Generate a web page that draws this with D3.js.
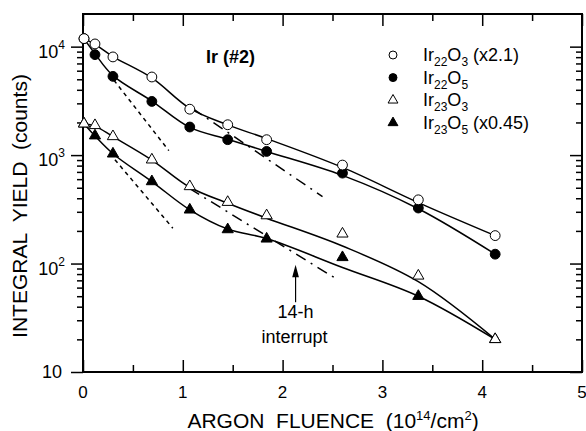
<!DOCTYPE html>
<html>
<head>
<meta charset="utf-8">
<script src="https://cdn.jsdelivr.net/npm/d3@7/dist/d3.min.js"></script>
<style>
  body { margin: 0; background: #fff; }
  text { font-family: Arial, "Liberation Sans", sans-serif; fill: #000; }
</style>
</head>
<body>
<div id="chart"></div>
<script>
// DATA
const fluence = [0.01, 0.12, 0.30, 0.69, 1.07, 1.45, 1.84, 2.60, 3.36, 4.13];
const ir22o3 = [11860, 10590, 8040, 5250, 2650, 1905, 1387, 809, 387, 181];   // x2.1
const ir22o5 = [11860, 8440, 5320, 3125, 1815, 1387, 1081, 682, 325, 122];
const ir23o3 = [1945, 1880, 1486, 906, 514, 368, 277, 188, 77, 20];
const ir23o5 = [1945, 1510, 1028, 571, 313, 206, 169, 114, 50, 20];           // x0.45

// smooth fit curves as drawn through the points
const fit22o3 = [11860, 10500, 8100, 5150, 2700, 1900, 1420, 770, 365, 181];
const fit22o5 = [11860, 8600, 5400, 3150, 1800, 1400, 1080, 650, 320, 122];
const fit23o3 = [1945, 1850, 1480, 900, 505, 360, 262, 145, 68, 20];
const fit23o5 = [1945, 1500, 1030, 570, 313, 208, 170, 92, 50, 20];

// initial-slope (dashed) and later-slope (dash-dot) straight lines
const dashX = [[0.31, 0.86], [0.32, 0.90]];
const dashY = [[4900, 1100], [906, 212]];
const dashDotX = [[1.10, 2.40], [1.07, 2.52]];
const dashDotY = [[2680, 415], [491, 74]];

// 14-h interrupt arrow
const arrowX = 2.13;
const arrowY = [44, 91];

const xTicks = [0, 1, 2, 3, 4, 5];
const xMinor = [0.5, 1.5, 2.5, 3.5, 4.5];
const yMajor = [10, 100, 1000, 10000];
const yExp = ["", "2", "3", "4"];

const legendNames = [
  { base: "Ir", s1: "22", o: "O", s2: "3", tail: " (x2.1)", sym: "circle", fill: "#fff" },
  { base: "Ir", s1: "22", o: "O", s2: "5", tail: "", sym: "circle", fill: "#000" },
  { base: "Ir", s1: "23", o: "O", s2: "3", tail: "", sym: "triangle", fill: "#fff" },
  { base: "Ir", s1: "23", o: "O", s2: "5", tail: " (x0.45)", sym: "triangle", fill: "#000" }
];

const W = 586, H = 431;
const margin = { top: 14, right: 4, bottom: 59, left: 83 };

const svg = d3.select("#chart").append("svg")
  .attr("width", W)
  .attr("height", H);

// SCALES
const x = d3.scaleLinear().domain([0, 5]).range([margin.left, W - margin.right]);
const y = d3.scaleLog().domain([10, 20000]).range([H - margin.bottom, margin.top]);

let yMinor = [];
[10, 100, 1000, 10000].forEach(d => {
  for (let k = 2; k <= 9; k++) if (d * k < 20000) yMinor.push(d * k);
});

// AXES (ticks only; frame drawn separately)
function axisTicks(axis, values, size, transform) {
  const g = svg.append("g")
    .attr("transform", transform)
    .call(axis.tickValues(values).tickSize(size).tickFormat(""));
  g.select(".domain").remove();
  g.selectAll("line").attr("stroke", "#000").attr("stroke-width", 1.5);
  return g;
}
const x0 = x.range()[0], x1 = x.range()[1], y0 = y.range()[0], y1 = y.range()[1];

axisTicks(d3.axisLeft(y), yMajor, 12, `translate(${x0},0)`);
axisTicks(d3.axisLeft(y), yMinor, 6, `translate(${x0},0)`);
axisTicks(d3.axisLeft(y), yMajor, 12, `translate(${x1},0)`);
axisTicks(d3.axisLeft(y), yMinor, 6, `translate(${x1},0)`);
axisTicks(d3.axisTop(x), xTicks, 12, `translate(0,${y0})`);
axisTicks(d3.axisTop(x), xMinor, 7, `translate(0,${y0})`);
axisTicks(d3.axisBottom(x), xTicks, 12, `translate(0,${y1})`);
axisTicks(d3.axisBottom(x), xMinor, 7, `translate(0,${y1})`);

// frame
svg.append("rect")
  .attr("x", x0).attr("y", y1)
  .attr("width", x1 - x0).attr("height", y0 - y1)
  .attr("fill", "none").attr("stroke", "#000").attr("stroke-width", 2);

// tick labels
svg.selectAll(".xlab").data(xTicks).enter().append("text")
  .attr("class", "xlab")
  .attr("x", d => x(d)).attr("y", y0 + 26)
  .attr("text-anchor", "middle")
  .style("font-size", "17px")
  .text(d => d);

const ylab = svg.selectAll(".ylab").data(yMajor).enter().append("text")
  .attr("class", "ylab")
  .attr("x", (d, i) => x0 - (i === 0 ? 21 : 18))
  .attr("y", (d, i) => y(d) + (i === 0 ? 6 : 11))
  .attr("text-anchor", "end")
  .style("font-size", "18px");
ylab.append("tspan").text("10");
ylab.append("tspan")
  .attr("dy", -9)
  .style("font-size", "12px")
  .text((d, i) => yExp[i]);

// axis titles
const xt = svg.append("text")
  .attr("x", 333).attr("y", 428)
  .attr("text-anchor", "middle")
  .style("font-size", "21px")
  .attr("xml:space", "preserve");
xt.append("tspan").text("ARGON  FLUENCE  (10");
xt.append("tspan").attr("dy", -8).style("font-size", "13px").text("14");
xt.append("tspan").attr("dy", 8).text("/cm");
xt.append("tspan").attr("dy", -8).style("font-size", "13px").text("2");
xt.append("tspan").attr("dy", 8).text(")");

svg.append("text")
  .attr("transform", "rotate(-90)")
  .attr("x", -206).attr("y", 27)
  .attr("text-anchor", "middle")
  .style("font-size", "21px")
  .attr("xml:space", "preserve")
  .text("INTEGRAL  YIELD  (counts)");

svg.append("text")
  .attr("x", 206).attr("y", 63)
  .style("font-size", "18px")
  .style("font-weight", "bold")
  .text("Ir (#2)");

// LINES
const line = d3.line()
  .x(d => x(d[0]))
  .y(d => y(d[1]))
  .curve(d3.curveCatmullRom.alpha(0.5));

[fit22o3, fit22o5, fit23o3, fit23o5].forEach(f => {
  svg.append("path")
    .datum(fluence.map((v, i) => [v, f[i]]))
    .attr("d", line)
    .attr("fill", "none").attr("stroke", "#000").attr("stroke-width", 1.5);
});

const straight = d3.line().x(d => x(d[0])).y(d => y(d[1]));
dashX.forEach((xs, k) => {
  svg.append("path")
    .datum(xs.map((v, i) => [v, dashY[k][i]]))
    .attr("d", straight)
    .attr("fill", "none").attr("stroke", "#000").attr("stroke-width", 1.5)
    .attr("stroke-dasharray", "4,4");
});
dashDotX.forEach((xs, k) => {
  svg.append("path")
    .datum(xs.map((v, i) => [v, dashDotY[k][i]]))
    .attr("d", straight)
    .attr("fill", "none").attr("stroke", "#000").attr("stroke-width", 1.5)
    .attr("stroke-dasharray", "11,6,2,6");
});

// arrow
svg.append("line")
  .attr("x1", x(arrowX)).attr("x2", x(arrowX))
  .attr("y1", y(arrowY[0])).attr("y2", y(arrowY[1]) + 8)
  .attr("stroke", "#000").attr("stroke-width", 1.2);
svg.append("path")
  .attr("d", d3.symbol().type(d3.symbolTriangle).size(40)())
  .attr("transform", `translate(${x(arrowX)},${y(arrowY[1]) + 5}) scale(0.7,1.5)`)
  .attr("fill", "#000");
svg.append("text")
  .attr("x", x(arrowX)).attr("y", 318)
  .attr("text-anchor", "middle").style("font-size", "18px")
  .text("14-h");
svg.append("text")
  .attr("x", x(arrowX) - 1).attr("y", 343)
  .attr("text-anchor", "middle").style("font-size", "18px")
  .text("interrupt");

// MARKERS (filled first, open with white fill on top)
const circ = d3.symbol().type(d3.symbolCircle).size(76)();
const tri = d3.symbol().type(d3.symbolTriangle).size(54)();

function markers(vals, path, fill) {
  svg.append("g").selectAll("path")
    .data(fluence.map((v, i) => [v, vals[i]]))
    .enter().append("path")
    .attr("d", path)
    .attr("transform", d => `translate(${x(d[0])},${y(d[1])})`)
    .attr("fill", fill).attr("stroke", "#000").attr("stroke-width", 1);
}
markers(ir22o5, circ, "#000");
markers(ir23o5, tri, "#000");
markers(ir22o3, circ, "#fff");
markers(ir23o3, tri, "#fff");

// LEGEND
const lg = svg.append("g").attr("transform", "translate(393,55)");
const rows = lg.selectAll("g").data(legendNames).enter().append("g")
  .attr("transform", (d, i) => `translate(0,${i * 22.6})`);
rows.append("path")
  .attr("d", d => d.sym === "circle"
    ? d3.symbol().type(d3.symbolCircle).size(50)()
    : d3.symbol().type(d3.symbolTriangle).size(42)())
  .attr("fill", d => d.fill).attr("stroke", "#000").attr("stroke-width", 1);
const lt = rows.append("text")
  .attr("x", 30).attr("y", 6)
  .style("font-size", "18px");
lt.append("tspan").text(d => d.base);
lt.append("tspan").attr("dy", 5).style("font-size", "12px").text(d => d.s1);
lt.append("tspan").attr("dy", -5).text(d => d.o);
lt.append("tspan").attr("dy", 5).style("font-size", "12px").text(d => d.s2);
lt.append("tspan").attr("dy", -5).attr("xml:space", "preserve").text(d => d.tail);
</script>
</body>
</html>
